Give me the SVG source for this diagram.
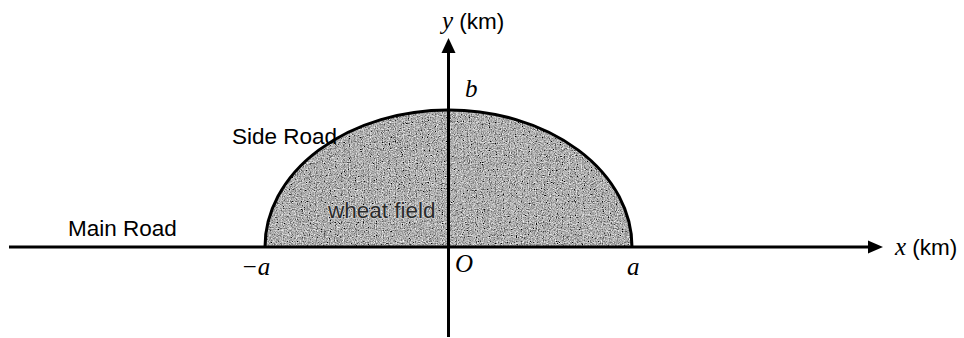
<svg xmlns="http://www.w3.org/2000/svg" width="964" height="338" viewBox="0 0 964 338">
  <style>
    .lbl { font-family: "Liberation Sans", Arial, sans-serif; font-size: 22.5px; fill: #000; }
    .math { font-family: "Liberation Serif", "Times New Roman", serif; font-style: italic; font-size: 25px; fill: #000; }
    .axis { stroke: #000; stroke-width: 3; fill: none; }
  </style>
  <defs>
    <filter id="speckle" x="0" y="0" width="100%" height="100%">
      <feTurbulence type="fractalNoise" baseFrequency="0.85" numOctaves="2" seed="3" result="n"/>
      <feColorMatrix in="n" type="matrix" values="0.8 0.8 0.8 0 -0.78  0.8 0.8 0.8 0 -0.78  0.8 0.8 0.8 0 -0.78  0 0 0 0 1" result="g"/>
      <feComposite in="g" in2="SourceGraphic" operator="in"/>
    </filter>
    <clipPath id="fieldClip">
      <path d="M265,247 A183.5,137 0 0 1 632,247 Z"/>
    </clipPath>
  </defs>

  <g id="wheat-field">
    <path d="M265,247 A183.5,137 0 0 1 632,247 Z" fill="#707070"/>
    <rect x="265" y="110" width="367" height="137" fill="#707070" filter="url(#speckle)" clip-path="url(#fieldClip)"/>
    <path d="M265,247 A183.5,137 0 0 1 632,247" fill="none" stroke="#000" stroke-width="3"/>
    <text class="lbl" x="328" y="218" style="fill:#2a2a2a;stroke:#d0d0d0;stroke-width:1.5;paint-order:stroke">wheat field</text>
  </g>

  <g id="connectors">
    <line class="axis" x1="9" y1="247" x2="870" y2="247"/>
    <polygon points="883,247 868,240.5 868,253.5" fill="#000"/>
    <line class="axis" x1="448.5" y1="337" x2="448.5" y2="50"/>
    <polygon points="448.5,38 441.5,53 455.5,53" fill="#000"/>
  </g>

  <g id="main-road">
    <text class="lbl" x="68" y="236">Main Road</text>
  </g>
  <g id="side-road">
    <text class="lbl" x="232" y="144">Side Road</text>
  </g>

  <g id="y-axis-label">
    <text x="442" y="29"><tspan class="math">y</tspan><tspan class="lbl"> (km)</tspan></text>
  </g>
  <g id="x-axis-label">
    <text x="895" y="255"><tspan class="math">x</tspan><tspan class="lbl"> (km)</tspan></text>
  </g>
  <g id="b-label"><text class="math" x="465" y="97">b</text></g>
  <g id="origin-label"><text class="math" x="455" y="272">O</text></g>
  <g id="neg-a-label"><text class="math" x="241" y="275">−a</text></g>
  <g id="a-label"><text class="math" x="627" y="275">a</text></g>
</svg>
